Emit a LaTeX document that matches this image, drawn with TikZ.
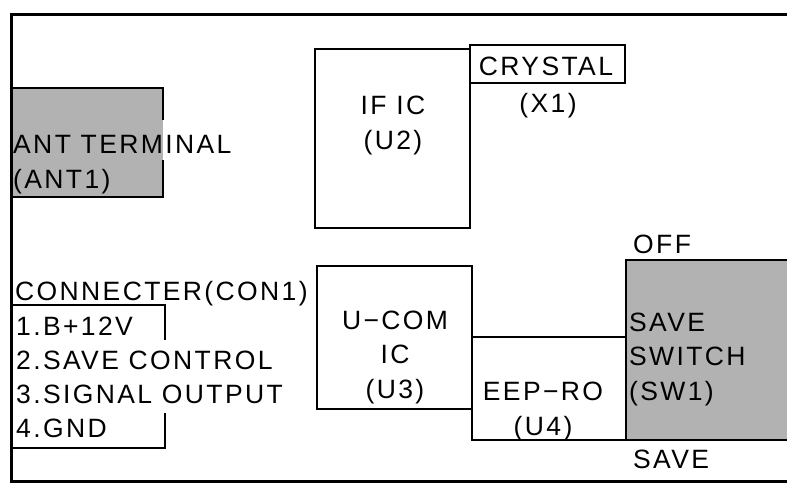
\documentclass[tikz,border=0pt]{standalone}
\usepackage{fontspec}
\setmainfont{Liberation Sans}[LetterSpace=9]
\usepackage{tikz}

\begin{document}
\begin{tikzpicture}[
    x=1pt, y=-1pt,
    outline/.style={line width=3pt},
    chip/.style={draw, line width=1.8pt, inner sep=0pt},
    shaded/.style={fill=black!30, inner sep=0pt},
    wire/.style={line width=1.8pt},
    txt/.style={font=\fontsize{26.5}{34.5}\selectfont, inner sep=0pt, anchor=base},
    ltxt/.style={txt, anchor=base west, align=left},
    ctxt/.style={txt, align=center}
]
\useasboundingbox (0,0) rectangle (787,485);
\draw[outline] (787,14) -- (11,14) -- (11,481) -- (787,481);

\node[shaded, minimum width=151pt, minimum height=109pt] (ant) at (87.5,142.5) {};
\draw[wire] ([yshift=-32pt]ant.north east) -- (ant.north east) -- (ant.north west) -- (ant.south west) -- (ant.south east) -- ([yshift=37pt]ant.south east);
\node[ltxt] (antname) at (13,153) {ANT TERMINAL};
\node[ltxt] (antref) at (13,188) {(ANT1)};

\node[chip, minimum width=155pt, minimum height=179pt] (u2) at (392.5,138.5) {};
\node[ctxt] (u2txt) at (393,149) {IF IC\\(U2)};
\node[chip, minimum width=155pt, minimum height=38pt] (x1) at (547.5,64) {};
\node[txt] (x1name) at (546,75) {CRYSTAL};
\node[txt] (x1ref) at (548,112) {(X1)};

\node[ltxt] (conname) at (15,300) {CONNECTER(CON1)};
\node[minimum width=153pt, minimum height=143pt, inner sep=0pt] (con) at (88.5,376.5) {};
\draw[wire] ([yshift=-35pt]con.north east) -- (con.north east) -- (con.north west) -- (con.south west) -- (con.south east) -- ([yshift=35pt]con.south east);
\node[ltxt] (pin1) at (16,335) {1.B+12V};
\node[ltxt] (pin2) at (16,369) {2.SAVE CONTROL};
\node[ltxt] (pin3) at (16,403) {3.SIGNAL OUTPUT};
\node[ltxt] (pin4) at (16,437.5) {4.GND};

\node[chip, minimum width=155pt, minimum height=143pt] (u3) at (394.5,337.5) {};
\node[ctxt] (u3txt) at (395,398) {U−COM\\IC\\(U3)};
\node[chip, minimum width=154pt, minimum height=103pt] (u4) at (549,388.5) {};
\node[ctxt] (u4txt) at (543,435) {EEP−RO\\(U4)};

\node[shaded, minimum width=161pt, minimum height=180pt] (sw1) at (706.5,350) {};
\draw[wire] (sw1.north east) -- (sw1.north west) -- (sw1.south west) -- (sw1.south east);
\node[ltxt] (sw1txt) at (629,400) {SAVE\\SWITCH\\(SW1)};
\node[ltxt] (off) at (633,253) {OFF};
\node[ltxt] (save) at (633,468) {SAVE};
\end{tikzpicture}
\end{document}
